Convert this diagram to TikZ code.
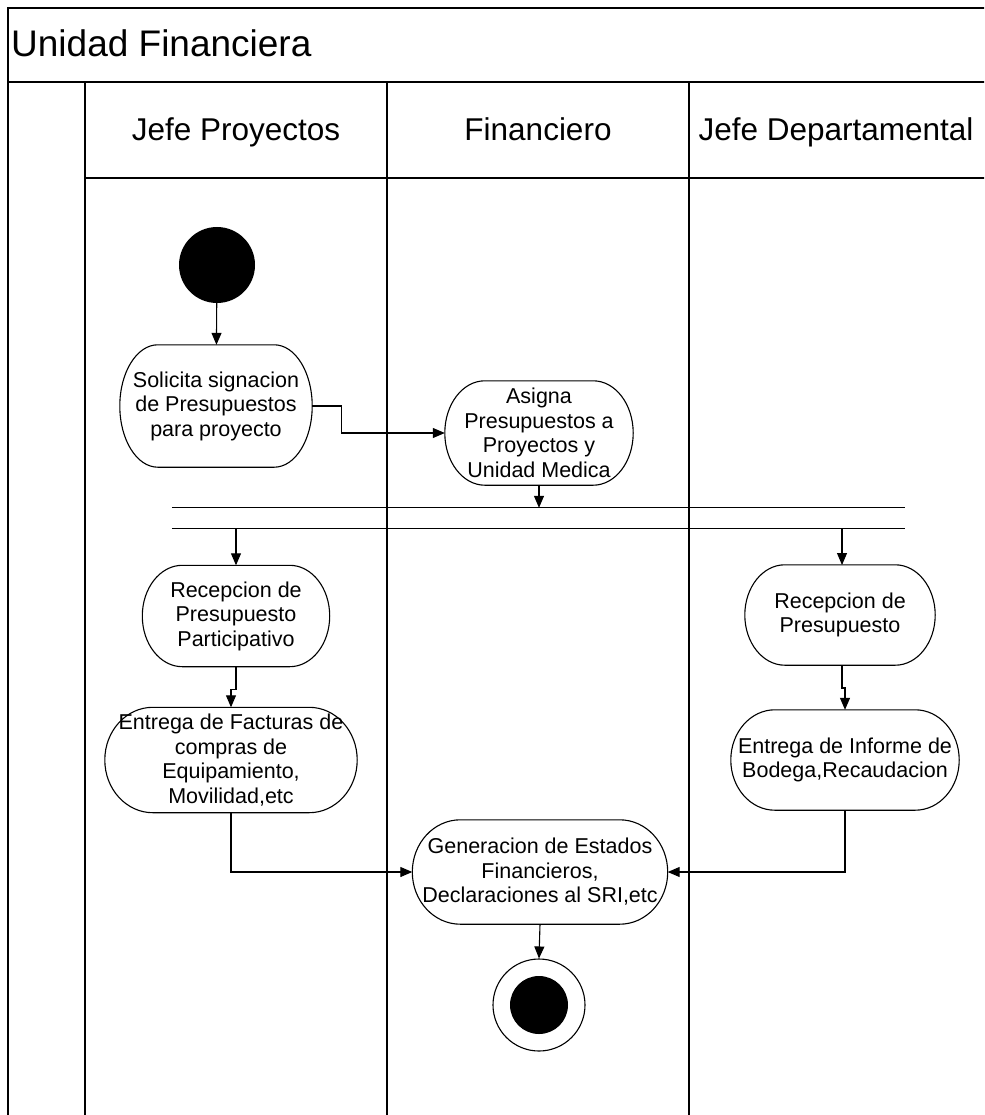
\documentclass[tikz,border=0pt]{standalone}
\usepackage{fontspec}
\setmainfont{Liberation Sans}
\usetikzlibrary{arrows.meta,calc}
% outline of an activity: flat top and bottom, elliptical ends of half-width #2
\newcommand\actoutline[2]{%
  \draw[line width=1.1pt] let \p1=(#1.north west), \p2=(#1.south east) in
    (\x1+#2pt,\y1) -- (\x2-#2pt,\y1)
    arc[start angle=90, end angle=-90, x radius=#2pt, y radius={(\y1-\y2)/2}]
    -- (\x1+#2pt,\y2)
    arc[start angle=270, end angle=90, x radius=#2pt, y radius={(\y1-\y2)/2}]
    -- cycle;}
\begin{document}
\begin{tikzpicture}[x=1pt,y=-1pt,
  lane/.style={line width=1.6pt},
  act/.style={inner sep=0pt, align=center, font=\fontsize{21.5}{24.5}\selectfont},
  flow/.style={line width=1.1pt, -{Triangle[length=12pt,width=10pt]}},
  plain/.style={line width=1.1pt},
  hdr/.style={font=\fontsize{31.5}{36}\selectfont, inner sep=0pt, anchor=base}]
\useasboundingbox (0,0) rectangle (984,1115);
\clip (0,0) rectangle (984,1115);
\fill[white] (0,0) rectangle (984,1115);

% swimlane frame
\draw[lane] (8,1125) -- (8,8) -- (995,8);
\draw[line width=2.4pt] (8,82) -- (995,82);
\draw[lane] (85,82) -- (85,1125);
\draw[lane] (387,82) -- (387,1125);
\draw[lane] (689,82) -- (689,1125);
\draw[lane] (85,178) -- (995,178);

\node[anchor=base west, inner sep=0pt, font=\fontsize{37}{40}\selectfont] (title) at (11,57) {Unidad Financiera};
\node[hdr] (h1) at (236,141) {Jefe Proyectos};
\node[hdr] (h2) at (538,141) {Financiero};
\node[hdr] (h3) at (836,141) {Jefe Departamental};

% activities
\node[circle, fill=black, minimum size=76pt, inner sep=0pt] (start) at (217,265) {};
\node[act, minimum width=192pt, minimum height=122pt] (sol) at (216,406)
  {Solicita signacion\\de Presupuestos\\para proyecto};
\node[act, minimum width=188pt, minimum height=104pt] (asig) at (539,433)
  {Asigna\\Presupuestos a\\Proyectos y\\Unidad Medica};
\node[inner sep=0pt, minimum width=733pt, minimum height=20pt] (fork) at (538.5,518) {};
\node[act, minimum width=187pt, minimum height=101pt] (recp) at (236,616)
  {Recepcion de\\Presupuesto\\Participativo};
\node[act, minimum width=252pt, minimum height=105pt] (fact) at (231,760)
  {Entrega de Facturas de\\compras de\\Equipamiento,\\Movilidad,etc};
\node[act, minimum width=190pt, minimum height=100pt] (recd) at (840,615)
  {Recepcion de\\Presupuesto};
\node[act, minimum width=228pt, minimum height=100pt] (inf) at (845,760)
  {Entrega de Informe de\\Bodega,Recaudacion};
\node[act, minimum width=255pt, minimum height=104pt] (gen) at (540,872)
  {Generacion de Estados\\Financieros,\\Declaraciones al SRI,etc};
\node[circle, draw, line width=1.1pt, minimum size=92pt, inner sep=0pt] (final) at (539,1005) {};
\node[circle, fill=black, minimum size=58pt, inner sep=0pt] (finaldot) at (final.center) {};

\actoutline{sol}{38}
\actoutline{asig}{40}
\actoutline{recp}{40}
\actoutline{fact}{48}
\actoutline{recd}{40}
\actoutline{inf}{44}
\actoutline{gen}{48}

% fork bars
\draw[plain] (fork.north west) -- (fork.north east);
\draw[plain] (fork.south west) -- (fork.south east);

% connectors
\draw[flow] (start) -- (sol);
\draw[flow] (sol.east) -- ++(29,0) |- (asig.west);
\draw[flow] (asig.south) -- (asig.south |- fork.north);
\draw[flow] (fork.south -| recp.north) -- (recp.north);
\draw[flow] (fork.south -| 842,0) -- (842,565);
\draw[flow] (recp.south) -- ++(0,23) -| (fact.north);
\draw[flow] (842,665) -- ++(0,23) -| (inf.north);
\draw[flow] (fact.south) |- (gen.west);
\draw[flow] (inf.south) |- (gen.east);
\draw[flow] (gen.south) -- (final.north);
\end{tikzpicture}
\end{document}
